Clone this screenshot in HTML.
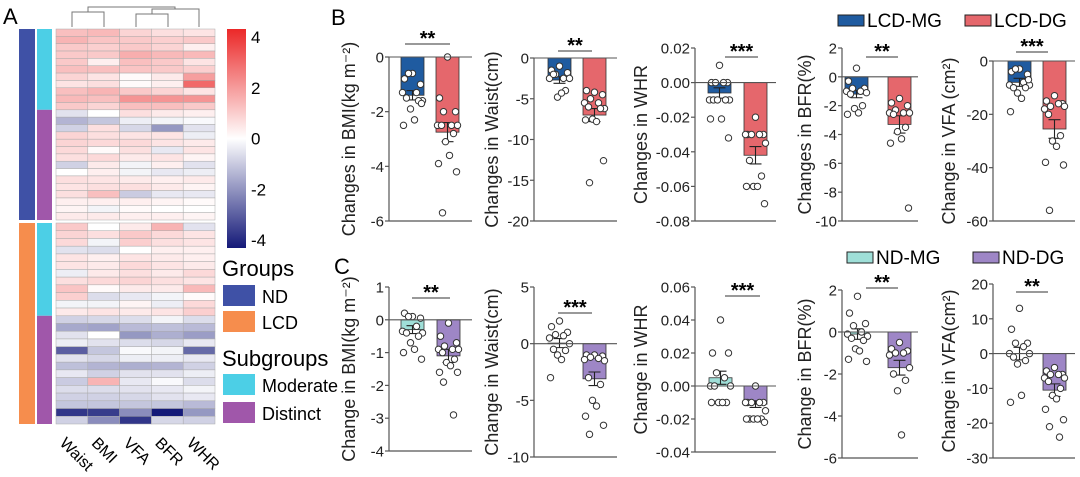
<!DOCTYPE html>
<html><head><meta charset="utf-8">
<style>
html,body{margin:0;padding:0;background:#fff;}
svg{display:block;font-family:"Liberation Sans",Arial,sans-serif;}
</style></head>
<body>
<svg id="fig" width="1080" height="477" viewBox="0 0 1080 477" xmlns="http://www.w3.org/2000/svg">
  <text x="3" y="24" font-size="22">A</text>
  <text x="331" y="25" font-size="22">B</text>
  <text x="334" y="274" font-size="22">C</text>
  <defs>
    <linearGradient id="cbar" x1="0" y1="0" x2="0" y2="1">
      <stop offset="0" stop-color="rgb(235,40,40)"/>
      <stop offset="0.5" stop-color="#ffffff"/>
      <stop offset="1" stop-color="rgb(20,25,120)"/>
    </linearGradient>
  </defs>
  <g id="heat"></g>
  <g id="bars"></g>
</svg>
<script>
const NS="http://www.w3.org/2000/svg";
// ---------- Heatmap data ----------
const heatCols=["Waist","BMI","VFA","BFR","WHR"];
const heatTop=[
[1.2,1.3,0.8,0.6,0.5],[1.4,1.1,1,0.9,1],[1,0.9,1,0.8,0.3],[1,1,1.5,1.3,1.3],[1,0.3,1.2,1,0.5],
[1.2,1.2,1.1,1,0.9],[0.8,0.5,0.1,0.4,1.8],[0.5,0.6,0.1,0.3,2.8],[1.2,1.4,1,0.8,0.5],[1.3,1.2,2,2,2],
[1,0.8,1.2,1.2,1],[-0.5,0,0.6,0.4,0.3],[-1.3,-1,-0.3,-0.2,-0.1],[-0.8,0.6,-0.7,-1.8,-0.5],[0.8,0.6,0.5,0.5,-0.3],
[0.8,0.7,0.7,0.5,0.4],[0.7,0.1,0.6,-0.4,0.5],[0.6,0.7,0.4,0.5,0.2],[-0.8,0.4,-0.2,0.3,-0.5],[0,0.3,-0.2,-0.4,-0.3],
[0.6,0.5,0.4,0.3,0.4],[0.5,0.6,0.6,0.4,0.2],[0.6,1.2,-0.9,-0.4,-0.4],[0.3,0.3,0.3,0.2,0.1],[0.2,-0.2,0.1,0,0],
[0.4,0.4,0.3,0.3,0.2]];
const heatBottom=[
[1,0,0.4,1.4,-0.5],[0.8,0.6,1,0.7,0.5],[0.7,-0.2,0.9,0.6,0.5],[-0.5,-0.6,0,0.3,0.3],[0.5,0.3,0.5,0.4,0.3],
[0.5,0.4,0.7,0.5,0.4],[-0.3,0.4,0.6,0.4,0.7],[0.6,0.7,0.8,0.6,0.5],[1.1,0.1,0.4,0.4,1.3],[0.9,-0.6,-0.4,-0.2,0.1],
[-0.2,-0.2,0.2,-0.3,0.7],[0.4,0.5,0.4,0.5,0.9],[-0.8,-0.7,-0.6,-0.2,-0.6],[-1.5,-1.6,-1.2,-1.1,-1.2],[-0.5,0,-1.8,-1.4,-1.7],
[-0.3,-0.5,-0.6,-0.7,-0.4],[-2.8,-1,-0.1,-0.2,-2.6],[-0.5,-0.7,-0.3,-0.3,-0.4],[-1.1,-1.3,-1.4,-1.3,-0.8],[-0.4,-0.8,-0.5,-0.5,-0.3],
[-0.9,1.4,-0.4,-0.1,-0.6],[-0.6,-0.6,-0.5,-0.4,-0.2],[-0.8,-0.8,-0.7,-0.5,-0.4],[-1,-1,-1,-1,-1.2],[-3.5,-3.4,-2,-4,-1.8],
[-0.8,-2,-3.5,-0.7,-0.8]];
const topModerateRows=11, bottomModerateRows=12;
const cbarTicks=[4,2,0,-2,-4];

// ---------- Bar panel data ----------
const bBmiMeans=[-1.4,-2.75], bBmiSem=[0.17,0.35];
const bBmiMG=[-0.6,-0.8,-1.0,-0.6,-1.3,-1.3,-1.6,-1.5,-1.6,-1.9,-2.3,-2.5,-1.7];
const bBmiDG=[0,-1.5,-2,-2,-2.5,-2.5,-2.5,-2.5,-2.8,-3.1,-3.6,-3.9,-4.2,-5.7];
const bWaistMeans=[-2.7,-7.0], bWaistSem=[0.4,0.8];
const bWaistMG=[-1,-1.5,-1.8,-2,-2.5,-2.5,-2.5,-2,-4,-4.8,-4.3];
const bWaistDG=[-4.2,-4,-4.5,-5,-5.5,-5.5,-6.2,-6,-6.2,-7.5,-7.8,-7.6,-12.6,-15.3];
const bWhrMeans=[-0.006,-0.042], bWhrSem=[0.003,0.005];
const bWhrMG=[0.01,0,0,0,0,-0.01,-0.01,-0.01,-0.01,-0.01,-0.021,-0.021,-0.032];
const bWhrDG=[-0.02,-0.03,-0.03,-0.03,-0.03,-0.03,-0.035,-0.045,-0.054,-0.06,-0.06,-0.06,-0.07];
const bBfrMeans=[-1.2,-3.3], bBfrSem=[0.25,0.6];
const bBfrMG=[0.6,-0.3,-0.8,-0.8,-1,-1,-1.1,-1.2,-2,-2.2,-2.5,-2.6];
const bBfrDG=[-1.5,-1.8,-2,-2.3,-2.5,-2.5,-2.5,-2.6,-3.5,-3.8,-4.3,-4.6,-9.1];
const bVfaMeans=[-8,-25.5], bVfaSem=[1.5,3.5];
const bVfaMG=[-3,-4,-5,-3,-8,-9,-9,-10,-10,-12,-14,-19,-7];
const bVfaDG=[-13,-15,-16,-17,-16,-18,-17,-20,-28,-30,-32,-38,-39,-56];

const cBmiMeans=[-0.3,-1.1], cBmiSem=[0.12,0.2];
const cBmiMG=[0.1,0.2,0.05,0.1,-0.2,-0.35,-0.4,-0.4,-0.5,-0.7,-0.9,-1.0,-1.2];
const cBmiDG=[-0.1,-0.5,-0.7,-0.8,-0.9,-0.9,-0.9,-1.0,-1.2,-1.3,-1.4,-1.6,-1.6,-1.9,-2.9];
const cWaistMeans=[0.05,-3.1], cWaistSem=[0.4,0.6];
const cWaistMG=[2,1.5,1,0.8,0.7,0.5,0,-0.5,-0.6,-1,-1.4,-3];
const cWaistDG=[-1,-1,-1.1,-1.2,-1.3,-1.4,-1.5,-3,-3.6,-5,-5.5,-6.4,-7.2,-8];
const cWhrMeans=[0.005,-0.011], cWhrSem=[0.004,0.002];
const cWhrMG=[0.04,0.02,0.02,0.008,0.005,0,0,0,-0.01,-0.01,-0.01,-0.01];
const cWhrDG=[0,-0.01,-0.01,-0.01,-0.01,-0.01,-0.015,-0.02,-0.02,-0.02,-0.02,-0.02,-0.022];
const cBfrMeans=[-0.1,-1.7], cBfrSem=[0.25,0.35];
const cBfrMG=[1.7,0.9,0.4,0.3,0,-0.1,-0.2,-0.3,-0.4,-0.8,-0.9,-1.3,-1.4];
const cBfrDG=[-0.5,-0.8,-0.9,-1,-1,-1.1,-1.7,-2,-2.3,-2.8,-4.9];
const cVfaMeans=[0,-10.5], cVfaSem=[1.8,1.8];
const cVfaMG=[13,7,3,3,2,0,0,-1,-2,-3,-12,-14];
const cVfaDG=[-4,-5,-6,-6,-6,-7,-7,-8,-10,-12,-13,-16,-19,-21,-24];

const bBmiTicks=[0,-2,-4,-6], bWaistTicks=[0,-5,-10,-15,-20], bWhrTicks=[0.02,0,-0.02,-0.04,-0.06,-0.08];
const bBfrTicks=[2,0,-2,-4,-6,-8,-10], bVfaTicks=[0,-20,-40,-60];
const cBmiTicks=[1,0,-1,-2,-3,-4], cWaistTicks=[5,0,-5,-10], cWhrTicks=[0.06,0.04,0.02,0,-0.02,-0.04];
const cBfrTicks=[2,0,-2,-4,-6], cVfaTicks=[20,10,0,-10,-20,-30];

function mk(tag,attrs,parent){const e=document.createElementNS(NS,tag);for(const k in attrs)e.setAttribute(k,attrs[k]);parent.appendChild(e);return e;}

// ---------- Heatmap drawing ----------
const heat=document.getElementById('heat');
function heatColor(v){
  const t=Math.min(1,Math.abs(v)/4);
  const c=v>=0?[235,40,40]:[20,25,120];
  return `rgb(${Math.round(255+(c[0]-255)*t)},${Math.round(255+(c[1]-255)*t)},${Math.round(255+(c[2]-255)*t)})`;
}
const hx0=56,hw=159,cw=hw/heatCols.length;
function drawBlock(data,y0,y1,name){
  const rh=(y1-y0)/data.length;
  data.forEach((row,r)=>row.forEach((v,c)=>{
    const e=mk('rect',{x:hx0+c*cw,y:y0+r*rh,width:cw,height:rh,fill:heatColor(v),stroke:'#aaa','stroke-width':0.5},heat);
    
    
  }));
  return rh;
}
const rhTop=drawBlock(heatTop,29,220,'nd');
const rhBot=drawBlock(heatBottom,223,424,'lcd');
function annot(x,y,w,h,fill,name){const e=mk('rect',{x,y,width:w,height:h,fill},heat);}
annot(19,29,16,191,'#3f51a6','group-bar-nd');
annot(19,223,16,201,'#f68d4d','group-bar-lcd');
annot(37,29,15,rhTop*topModerateRows,'#4ccfe6','subgroup-bar-nd-moderate');
annot(37,29+rhTop*topModerateRows,15,191-rhTop*topModerateRows,'#a057aa','subgroup-bar-nd-distinct');
annot(37,223,15,rhBot*bottomModerateRows,'#4ccfe6','subgroup-bar-lcd-moderate');
annot(37,223+rhBot*bottomModerateRows,15,201-rhBot*bottomModerateRows,'#a057aa','subgroup-bar-lcd-distinct');
const dg=mk('path',{d:`M72,27V12H104V27 M136,27V14H168V27 M152,14V9H199V27 M88,12V7H175V9`,fill:'none',stroke:'#777','stroke-width':1},heat);

heatCols.forEach((c,i)=>{
  const x=hx0+cw*i+cw/2-13, y=444;
  const t=mk('text',{x,y,'font-size':16,transform:`rotate(45 ${x} ${y})`},heat);
  t.textContent=c;
  
});
const cb=mk('rect',{x:227,y:29,width:19,height:219,fill:'url(#cbar)'},heat);

cbarTicks.forEach(v=>{
  const y=29+8+(4-v)/8*(219-16);
  const t=mk('text',{x:251,y:y+6,'font-size':17},heat);t.textContent=String(v);
  
});
function ltext(x,y,s,size,name){const t=mk('text',{x,y,'font-size':size},heat);t.textContent=s;}
ltext(222,276,'Groups',22,'legend-title-groups');
annot(223,285,32,21,'#3f51a6','legend-swatch-nd');ltext(262,303,'ND',18,'legend-label-nd');
annot(223,311,32,21,'#f68d4d','legend-swatch-lcd');ltext(262,329,'LCD',18,'legend-label-lcd');
ltext(222,366,'Subgroups',22,'legend-title-subgroups');
annot(223,374,32,21,'#4ccfe6','legend-swatch-moderate');ltext(262,392,'Moderate',18,'legend-label-moderate');
annot(223,402,32,21,'#a057aa','legend-swatch-distinct');ltext(262,420,'Distinct',18,'legend-label-distinct');

// ---------- Bar panels ----------
const bars=document.getElementById('bars');
const B=['#1f5ba0','#e5676c'], C=['#9fdfd8','#9e86c6'];
const panels=[
 {n:'b-bmi',ax:389,xe:472,yt:57,yb:221,vt:0,vb:-6,ticks:bBmiTicks,dec:0,bx:[401,436],col:B,title:'Changes in BMI(kg m⁻²)',tx:355,sy:44,sx:[405,450],st:'**',m:bBmiMeans,s:bBmiSem,p:[bBmiMG,bBmiDG]},
 {n:'b-waist',ax:534,xe:617,yt:58,yb:221,vt:0,vb:-20,ticks:bWaistTicks,dec:0,bx:[548,583],col:B,title:'Changes in Waist(cm)',tx:498,sy:51,sx:[558,592],st:'**',m:bWaistMeans,s:bWaistSem,p:[bWaistMG,bWaistDG]},
 {n:'b-whr',ax:695,xe:776,yt:48,yb:221,vt:0.02,vb:-0.08,ticks:bWhrTicks,dec:2,bx:[708,744],col:B,title:'Changes in WHR',tx:647,sy:57,sx:[725,758],st:'***',m:bWhrMeans,s:bWhrSem,p:[bWhrMG,bWhrDG]},
 {n:'b-bfr',ax:842,xe:918,yt:48,yb:221,vt:2,vb:-10,ticks:bBfrTicks,dec:0,bx:[845,888],col:B,title:'Changes in BFR(%)',tx:811,sy:57,sx:[866,898],st:'**',m:bBfrMeans,s:bBfrSem,p:[bBfrMG,bBfrDG]},
 {n:'b-vfa',ax:993,xe:1075,yt:61,yb:221,vt:0,vb:-60,ticks:bVfaTicks,dec:0,bx:[1008,1043],col:B,title:'Change in VFA (cm²)',tx:955,sy:52,sx:[1016,1048],st:'***',m:bVfaMeans,s:bVfaSem,p:[bVfaMG,bVfaDG]},
 {n:'c-bmi',ax:389,xe:472,yt:287,yb:451,vt:1,vb:-4,ticks:cBmiTicks,dec:0,bx:[401,437],col:C,title:'Change in BMI(kg m⁻²)',tx:355,sy:298,sx:[412,450],st:'**',m:cBmiMeans,s:cBmiSem,p:[cBmiMG,cBmiDG]},
 {n:'c-waist',ax:534,xe:617,yt:287,yb:457,vt:5,vb:-10,ticks:cWaistTicks,dec:0,bx:[548,583],col:C,title:'Change in Waist(cm)',tx:498,sy:313,sx:[558,592],st:'***',m:cWaistMeans,s:cWaistSem,p:[cWaistMG,cWaistDG]},
 {n:'c-whr',ax:695,xe:776,yt:287,yb:452,vt:0.06,vb:-0.04,ticks:cWhrTicks,dec:2,bx:[709,744],col:C,title:'Change in WHR',tx:647,sy:296,sx:[725,760],st:'***',m:cWhrMeans,s:cWhrSem,p:[cWhrMG,cWhrDG]},
 {n:'c-bfr',ax:842,xe:918,yt:290,yb:458,vt:2,vb:-6,ticks:cBfrTicks,dec:0,bx:[846,888],col:C,title:'Change in BFR(%)',tx:811,sy:288,sx:[866,898],st:'**',m:cBfrMeans,s:cBfrSem,p:[cBfrMG,cBfrDG]},
 {n:'c-vfa',ax:993,xe:1075,yt:284,yb:458,vt:20,vb:-30,ticks:cVfaTicks,dec:0,bx:[1008,1043],col:C,title:'Change in VFA(cm²)',tx:955,sy:292,sx:[1016,1048],st:'**',m:cVfaMeans,s:cVfaSem,p:[cVfaMG,cVfaDG]},
];
const bw=23, jit=[0,-8,8,-4,4,-10,10,-6,6,-2,2,-9,9,-5,5];
panels.forEach(P=>{
  const g=mk('g',{},bars);
  const Y=v=>P.yt+(P.vt-v)/(P.vt-P.vb)*(P.yb-P.yt);
  const ax=mk('line',{x1:P.ax,y1:P.yt,x2:P.ax,y2:P.yb,stroke:'#555','stroke-width':1.2},g);
  
  const xb=mk('line',{x1:P.ax,y1:P.yb,x2:P.xe,y2:P.yb,stroke:'#555','stroke-width':1.2},g);
  
  P.ticks.forEach(v=>{
    const y=Y(v);
    mk('line',{x1:P.ax-4,y1:y,x2:P.ax,y2:y,stroke:'#555','stroke-width':1.2},g);
    const t=mk('text',{x:P.ax-5,y:y+5.5,'font-size':15,'text-anchor':'end',fill:'#222'},g);
    t.textContent=v.toFixed(P.dec);
    
  });
  const cy=(P.yt+P.yb)/2;
  const tt=mk('text',{x:P.tx,y:cy,'font-size':18,'text-anchor':'middle',transform:`rotate(-90 ${P.tx} ${cy})`,fill:'#222'},g);
  tt.textContent=P.title;
  [0,1].forEach(i=>{
    const x=P.bx[i], y0=Y(0), ym=Y(P.m[i]);
    const r=mk('rect',{x,y:Math.min(y0,ym),width:bw,height:Math.abs(ym-y0),fill:P.col[i],stroke:'#333','stroke-width':0.8},g);
    
    const cx=x+bw/2, e1=Y(P.m[i]+P.s[i]), e2=Y(P.m[i]-P.s[i]);
    const eb=mk('path',{d:`M${cx},${e1}V${e2}M${cx-6},${e1}H${cx+6}M${cx-6},${e2}H${cx+6}`,stroke:'#222','stroke-width':1.1,fill:'none'},g);
    
    P.p[i].forEach((v,k)=>{
      const c=mk('circle',{cx:cx+jit[k%jit.length],cy:Y(v),r:3.2,fill:'#fff',stroke:'#333','stroke-width':1},g);
      
    });
  });
  const z=mk('line',{x1:P.ax,y1:Y(0),x2:P.xe,y2:Y(0),stroke:'#555','stroke-width':1.1},g);
  
  const sl=mk('line',{x1:P.sx[0],y1:P.sy,x2:P.sx[1],y2:P.sy,stroke:'#333','stroke-width':1},g);
  
  const st=mk('text',{x:(P.sx[0]+P.sx[1])/2,y:P.sy+1,'font-size':20,'font-weight':'bold','text-anchor':'middle'},g);
  st.textContent=P.st;
});
function leg(x,y,fill,label,name){
  const r=mk('rect',{x,y,width:26,height:11,fill,stroke:'#222','stroke-width':1},bars);
  
  const t=mk('text',{x:x+29,y:y+12,'font-size':19},bars);t.textContent=label;
  
}
leg(838,15,B[0],'LCD-MG','legend-lcd-mg');
leg(965,15,B[1],'LCD-DG','legend-lcd-dg');
leg(847,252,C[0],'ND-MG','legend-nd-mg');
leg(973,252,C[1],'ND-DG','legend-nd-dg');
</script>
</body></html>
